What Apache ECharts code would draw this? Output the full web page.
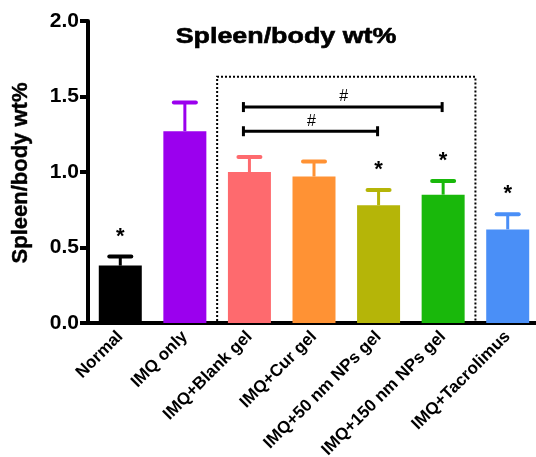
<!DOCTYPE html>
<html><head><meta charset="utf-8">
<script src="https://cdn.jsdelivr.net/npm/echarts@6/dist/echarts.min.js"></script>
<style>html,body{margin:0;padding:0;background:#fff}#c{width:536px;height:457px}</style>
</head><body><div id="c"></div>
<script>
const categories = ['Normal','IMQ only','IMQ+Blank gel','IMQ+Cur gel','IMQ+50 nm NPs gel','IMQ+150 nm NPs gel','IMQ+Tacrolimus'];
const means = [0.38, 1.27, 1.00, 0.97, 0.78, 0.85, 0.62];
const errTops = [0.44, 1.46, 1.10, 1.07, 0.88, 0.94, 0.72];
const barColors = ['#000000','#9B00EE','#FE6A6E','#FF9234','#B5B508','#19B80B','#4A8FF7'];
const stars = ['*','','','','*','*','*'];
const brackets = [[2, 4, 1.27, '#'], [2, 5, 1.43, '#']];
const boxRange = [2, 5];
const boxTop = 1.63;
const yTicks = [0, 0.5, 1.0, 1.5, 2.0];

const chart = echarts.init(document.getElementById('c'));
const F = 'Liberation Sans, Arial, Helvetica, sans-serif';

chart.setOption({
  animation: false,
  grid: {left: 88, top: 21, width: 452, bottom: 134, containLabel: false, outerBoundsMode: 'none'},
  graphic: [
    {type: 'text', x: 286, y: 37, scaleX: 1.22, style: {text: 'Spleen/body wt%', font: 'bold 22px ' + F, fill: '#000', textAlign: 'center', textVerticalAlign: 'middle', stroke: '#000', lineWidth: 0.6}},
    {type: 'text', x: 21, y: 173, rotation: Math.PI / 2, style: {text: 'Spleen/body wt%', font: 'bold 22px ' + F, fill: '#000', textAlign: 'center', textVerticalAlign: 'middle', stroke: '#000', lineWidth: 0.4}}
  ],
  xAxis: {
    type: 'category', data: categories, boundaryGap: true,
    axisLine: {lineStyle: {color: '#000', width: 4}},
    axisTick: {alignWithLabel: true, length: 7, lineStyle: {color: '#000', width: 4}},
    axisLabel: {interval: 0, rotate: 45, margin: 11, color: '#000', fontFamily: F, fontWeight: 'bold', fontSize: 17}
  },
  yAxis: {
    type: 'value', min: yTicks[0], max: yTicks[yTicks.length - 1], interval: 0.5,
    axisLine: {show: true, lineStyle: {color: '#000', width: 4}},
    axisTick: {show: true, length: 8, lineStyle: {color: '#000', width: 4}},
    splitLine: {show: false},
    axisLabel: {margin: 9, color: '#000', fontFamily: F, fontWeight: 'bold', fontSize: 21, formatter: v => v.toFixed(1)}
  },
  series: [
    {
      type: 'custom', z: 1, silent: true,
      data: [[boxRange[0], boxRange[1], boxTop]],
      renderItem: (params, api) => {
        const bw = api.size([1, 0])[0];
        const p1 = api.coord([api.value(0), api.value(2)]);
        const p2 = api.coord([api.value(1), 0]);
        const x1 = p1[0] - bw / 2, x2 = p2[0] + bw / 2, yb = p2[1] - 2;
        return {type: 'polyline', shape: {points: [[x1, yb], [x1, p1[1]], [x2, p1[1]], [x2, yb]]},
          style: {fill: 'none', stroke: '#000', lineWidth: 2, lineDash: [2, 2]}};
      }
    },
    {
      type: 'bar', barWidth: 43, z: 2,
      data: means.map((v, i) => ({value: v, itemStyle: {color: barColors[i]}}))
    },
    {
      type: 'custom', z: 3, silent: true,
      data: means.map((v, i) => [i, v, errTops[i]]),
      renderItem: (params, api) => {
        const i = api.value(0);
        const b = api.coord([i, api.value(1)]);
        const t = api.coord([i, api.value(2)]);
        const c = barColors[i];
        const ch = [
          {type: 'line', shape: {x1: b[0], y1: b[1], x2: t[0], y2: t[1]}, style: {stroke: c, lineWidth: 3}},
          {type: 'line', shape: {x1: t[0] - 11, y1: t[1], x2: t[0] + 11, y2: t[1]}, style: {stroke: c, lineWidth: 4, lineCap: 'round'}}
        ];
        if (stars[i]) {
          ch.push({type: 'text', x: t[0], y: t[1] - 20, style: {text: stars[i], font: 'bold 22px ' + F, fill: '#000', textAlign: 'center', textVerticalAlign: 'middle'}});
        }
        return {type: 'group', children: ch};
      }
    },
    {
      type: 'custom', z: 3, silent: true,
      data: brackets,
      renderItem: (params, api) => {
        const a = api.coord([api.value(0), api.value(2)]);
        const b = api.coord([api.value(1), api.value(2)]);
        const x1 = a[0] - 6, x2 = b[0] - 1, y = a[1];
        return {type: 'group', children: [
          {type: 'line', shape: {x1: x1, y1: y, x2: x2, y2: y}, style: {stroke: '#000', lineWidth: 3}},
          {type: 'line', shape: {x1: x1, y1: y - 5, x2: x1, y2: y + 5}, style: {stroke: '#000', lineWidth: 3}},
          {type: 'line', shape: {x1: x2, y1: y - 5, x2: x2, y2: y + 5}, style: {stroke: '#000', lineWidth: 3}},
          {type: 'text', x: (x1 + x2) / 2 + 1, y: y - 10, style: {text: brackets[params.dataIndex][3], font: '16px ' + F, fill: '#000', textAlign: 'center', textVerticalAlign: 'middle'}}
        ]};
      }
    }
  ]
});
</script></body></html>
